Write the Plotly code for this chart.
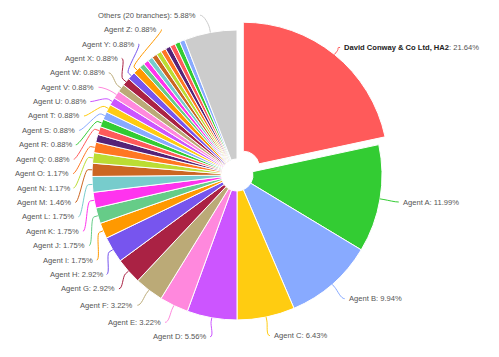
import math
import plotly.graph_objects as go

# ---------------- data ----------------
names = [
    "David Conway & Co Ltd, HA2", "Agent A", "Agent B", "Agent C", "Agent D",
    "Agent E", "Agent F", "Agent G", "Agent H", "Agent I", "Agent J", "Agent K",
    "Agent L", "Agent M", "Agent N", "Agent O", "Agent P", "Agent Q", "Agent R",
    "Agent S", "Agent T", "Agent U", "Agent V", "Agent W", "Agent X", "Agent Y",
    "Agent Z", "", "", "", "", "", "", "", "", "", "", "Others (20 branches)",
]
values = [
    21.64, 11.99, 9.94, 6.43, 5.56,
    3.22, 3.22, 2.92, 2.92, 1.75, 1.75, 1.75,
    1.75, 1.46, 1.17, 1.17, 0.88, 0.88, 0.88,
    0.88, 0.88, 0.88, 0.88, 0.88, 0.88, 0.88,
    0.88, 0.58, 0.58, 0.58, 0.58, 0.58, 0.58, 0.58, 0.58, 0.58, 0.58, 5.88,
]
# labels that the original chart displays (others were hidden for lack of room)
label_shown = [True] * 16 + [False] + [True] * 10 + [False] * 10 + [True]
sliced = [True] + [False] * 37

# ---------------- style ----------------
palette = ["#ff5a5a", "#33cc33", "#88aaff", "#ffcc11", "#cc55ff", "#ff88dd",
           "#bbaa77", "#aa2244", "#7755ee", "#ff9900", "#66cc88", "#ff33ee",
           "#77cccc", "#cc6622", "#bbdd33", "#ff7722", "#552277"]
others_color = "#cccccc"
colors = [palette[i % len(palette)] for i in range(len(values) - 1)] + [others_color]

W, H = 499, 357
CX, CY, R, PULL_PX = 237, 175, 145, 10
HOLE_PX = 16
LABEL_R = R + 19
LINE_H = 14.4
FONT = dict(family="Liberation Sans, Arial, Helvetica, sans-serif", size=7.6, color="#555555")
TOP, BOTTOM = 8, H - 8

n = len(values)
total = sum(values)
mids = []
c = 0.0
for v in values:
    mids.append(360.0 * (c + v / 2) / total)
    c += v

pull_frac = PULL_PX / R
pulls = [pull_frac if s else 0 for s in sliced]
half = R + PULL_PX

fig = go.Figure(go.Pie(
    labels=[str(i) for i in range(n)],
    values=values,
    customdata=names,
    sort=False,
    direction="clockwise",
    rotation=0,
    pull=pulls,
    hole=HOLE_PX / R,
    marker=dict(colors=colors, line=dict(color="#ffffff", width=1)),
    textinfo="none",
    hovertemplate="%{customdata}: %{value:.2f}%<extra></extra>",
    domain=dict(x=[(CX - half) / W, (CX + half) / W],
                y=[1 - (CY + half) / H, 1 - (CY - half) / H]),
    showlegend=False,
))


def distribute(targets, size, lo, hi):
    order = sorted(range(len(targets)), key=lambda k: targets[k])
    groups = [[k] for k in order]

    def gpos(g):
        m = sum(targets[k] for k in g) / len(g)
        p = m - len(g) * size / 2
        return min(max(p, lo), hi - len(g) * size)

    merged = True
    while merged:
        merged = False
        for j in range(len(groups) - 1):
            if gpos(groups[j]) + len(groups[j]) * size > gpos(groups[j + 1]) + 1e-9:
                groups[j] = groups[j] + groups[j + 1]
                del groups[j + 1]
                merged = True
                break
    out = {}
    for g in groups:
        p = gpos(g)
        for j, k in enumerate(g):
            out[k] = p + (j + 0.5) * size
    return out


def px(x, y):
    return x / W, 1 - y / H


annotations = []
shapes = []
for side in ("left", "right"):
    idx = [i for i in range(n) if label_shown[i] and ((mids[i] > 180) == (side == "left"))]
    targets = [CY - LABEL_R * math.cos(math.radians(mids[i])) for i in idx]
    ys = distribute(targets, LINE_H, TOP, BOTTOM)
    sgn = -1 if side == "left" else 1
    for k, i in enumerate(idx):
        y = ys[k]
        dy = max(-LABEL_R, min(LABEL_R, y - CY))
        xc = CX + sgn * math.sqrt(LABEL_R ** 2 - dy ** 2)
        th = math.radians(mids[i])
        ux, uy = math.sin(th), -math.cos(th)
        off = PULL_PX if sliced[i] else 0
        tx, ty = CX + (R + off) * ux, CY + (R + off) * uy
        bx, by = tx + 4 * ux, ty + 4 * uy
        c1x, c1y = xc - sgn * 4, y
        c2x, c2y = 2 * bx - tx, 2 * by - ty
        pts = [px(xc, y), px(c1x, c1y), px(c2x, c2y), px(bx, by), px(tx, ty)]
        path = ("M {:.5f} {:.5f} C {:.5f} {:.5f} {:.5f} {:.5f} {:.5f} {:.5f} L {:.5f} {:.5f}"
                .format(*[v for p in pts for v in p]))
        shapes.append(dict(type="path", path=path, xref="paper", yref="paper",
                           line=dict(color=colors[i], width=1), layer="above"))
        nm = names[i].replace("&", "&amp;")
        if i == 0:
            txt = "<b><span style='color:#222222'>{}</span></b>: {:.2f}%".format(nm, values[i])
        else:
            txt = "{}: {:.2f}%".format(nm, values[i])
        ax, ay = px(xc + sgn * 3, y)
        annotations.append(dict(text=txt, x=ax, y=ay, xref="paper", yref="paper",
                                xanchor="right" if side == "left" else "left",
                                yanchor="middle", showarrow=False, font=FONT,
                                borderpad=0))

fig.update_layout(
    width=W, height=H, autosize=False,
    margin=dict(l=0, r=0, t=0, b=0),
    paper_bgcolor="#ffffff", plot_bgcolor="#ffffff",
    annotations=annotations, shapes=shapes,
    font=FONT,
)

fig.write_html("out.html", config={"displayModeBar": False},
               post_script="document.body.style.margin='0';")
